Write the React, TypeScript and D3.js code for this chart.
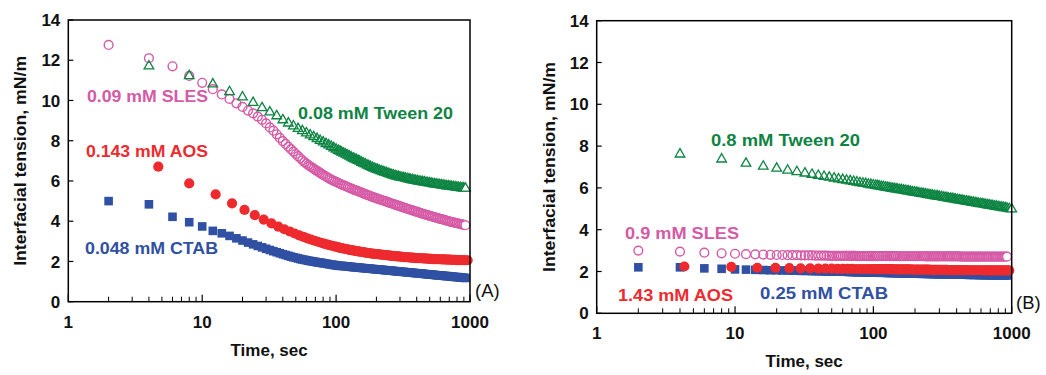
import React from "react";
import * as d3 from "d3";

// ---------- axis ticks ----------
const TIME_MAJOR = [1, 10, 100, 1000];
const TIME_LABELS = ["1", "10", "100", "1000"];
const TENSION_TICKS = [0, 2, 4, 6, 8, 10, 12, 14];

// ---------- time grids (s) ----------
const EVEN_T = [2, 4, 6, 8, 10, 12, 14, 16, 18, 20, 22, 24, 26, 28, 30, 32, 34, 36, 38, 40, 42, 44, 46, 48, 50, 52, 54, 56, 58, 60];
const QUAD_T = [4, 8, 12, 16, 20, 24, 28, 32, 36, 40, 44, 48, 52, 56, 60, 64, 68, 72, 76, 80, 84, 88, 92, 96, 100];
const GRID_A = [62, 64, 66, 68, 70, 72, 74, 76, 78, 80, 83, 86, 89, 92, 95, 98, 101];
const GRID_B = [
  104, 107, 110, 114, 118, 122, 126, 130, 134, 138,
  142, 146, 150, 155, 160, 165, 170, 175, 180, 186,
  192, 198, 204, 210, 217, 224, 231, 238, 245, 252,
  260, 268, 276, 284, 292, 300, 310, 320, 330, 340,
  350, 360, 371, 382, 393, 405, 417, 430, 443, 456,
  470, 484, 498, 513, 528, 544, 560, 577, 594, 612,
  630, 649, 668, 688, 709, 730, 752, 775, 798, 822,
  847, 872, 898, 925,
];
const AOS_A_T = [4.7, 8, 12.6, 16.7, 20.7, 24.7, 28.8, 32.9, 37, 41, 45, 49, 53, 57, 61, 65, 69, 73, 77, 81, 85, 89, 93, 97, 101];
const AOS_B_T = [4.3, 9.4, 14.5, 19.6, 24.7, 29.8, 34.9, 40, 45, 50, 55, 60, 65, 70, 75, 80, 85, 90, 95, 100];
const TAIL_T = [960, 1000];

// ---------- panel A values (mN/m) ----------
const A_SLES_EARLY = [12.76, 12.1, 11.7, 11.22, 10.88, 10.56, 10.3, 10.08, 9.86, 9.68, 9.5, 9.36, 9.2, 9.04, 8.86, 8.66, 8.5, 8.32, 8.14, 7.98, 7.84, 7.7, 7.58, 7.46, 7.34, 7.23, 7.13, 7.03, 6.94, 6.86];
const A_SLES_A = [6.79, 6.73, 6.67, 6.61, 6.55, 6.5, 6.45, 6.4, 6.35, 6.3, 6.24, 6.18, 6.12, 6.07, 6.02, 5.98, 5.94];
const A_SLES_B = [
  5.9, 5.86, 5.82, 5.78, 5.74, 5.7, 5.66, 5.62, 5.58, 5.55,
  5.52, 5.49, 5.46, 5.42, 5.38, 5.35, 5.31, 5.28, 5.25, 5.21,
  5.18, 5.15, 5.12, 5.09, 5.06, 5.03, 5.0, 4.97, 4.94, 4.91,
  4.88, 4.85, 4.82, 4.79, 4.77, 4.74, 4.71, 4.68, 4.65, 4.62,
  4.59, 4.57, 4.54, 4.51, 4.48, 4.46, 4.43, 4.4, 4.37, 4.35,
  4.32, 4.3, 4.27, 4.25, 4.22, 4.2, 4.17, 4.15, 4.12, 4.1,
  4.08, 4.05, 4.03, 4.01, 3.98, 3.96, 3.94, 3.92, 3.9, 3.88,
  3.86, 3.84, 3.82, 3.8,
];
const A_TWEEN_EARLY = [11.76, 11.27, 10.86, 10.48, 10.22, 9.94, 9.68, 9.47, 9.28, 9.08, 8.92, 8.78, 8.65, 8.54, 8.43, 8.33, 8.24, 8.15, 8.06, 7.98, 7.9, 7.83, 7.76, 7.69, 7.62];
const A_TWEEN_B = [
  7.56, 7.52, 7.47, 7.42, 7.37, 7.32, 7.27, 7.22, 7.18, 7.14,
  7.1, 7.06, 7.02, 6.97, 6.93, 6.89, 6.84, 6.8, 6.76, 6.72,
  6.68, 6.64, 6.61, 6.58, 6.54, 6.51, 6.48, 6.45, 6.42, 6.39,
  6.36, 6.33, 6.31, 6.28, 6.26, 6.24, 6.22, 6.2, 6.18, 6.16,
  6.14, 6.12, 6.1, 6.08, 6.07, 6.05, 6.03, 6.02, 6.0, 5.99,
  5.97, 5.96, 5.94, 5.93, 5.91, 5.9, 5.88, 5.87, 5.86, 5.84,
  5.83, 5.82, 5.8, 5.79, 5.78, 5.77, 5.76, 5.75, 5.73, 5.72,
  5.71, 5.7, 5.69, 5.68,
];
const A_AOS_EARLY = [6.71, 5.88, 5.33, 4.89, 4.56, 4.3, 4.08, 3.89, 3.73, 3.6, 3.49, 3.39, 3.3, 3.22, 3.15, 3.09, 3.03, 2.98, 2.93, 2.89, 2.85, 2.81, 2.78, 2.75, 2.72];
const A_AOS_B = [
  2.7, 2.68, 2.66, 2.64, 2.62, 2.6, 2.58, 2.56, 2.55, 2.53,
  2.52, 2.5, 2.49, 2.47, 2.46, 2.44, 2.43, 2.42, 2.4, 2.39,
  2.38, 2.37, 2.36, 2.35, 2.34, 2.33, 2.32, 2.31, 2.3, 2.29,
  2.28, 2.27, 2.26, 2.25, 2.25, 2.24, 2.23, 2.22, 2.21, 2.21,
  2.2, 2.19, 2.19, 2.18, 2.17, 2.17, 2.16, 2.16, 2.15, 2.15,
  2.14, 2.14, 2.13, 2.13, 2.12, 2.12, 2.11, 2.11, 2.11, 2.1,
  2.1, 2.1, 2.09, 2.09, 2.09, 2.08, 2.08, 2.08, 2.07, 2.07,
  2.07, 2.07, 2.06, 2.06,
];
const A_AOS_TAIL = [2.06];
const A_CTAB_EARLY = [5.0, 4.84, 4.22, 3.95, 3.74, 3.52, 3.4, 3.27, 3.15, 3.04, 2.94, 2.85, 2.77, 2.7, 2.63, 2.57, 2.51, 2.46, 2.41, 2.36, 2.32, 2.28, 2.24, 2.21, 2.18, 2.15, 2.12, 2.1, 2.08, 2.06];
const A_CTAB_A = [2.04, 2.02, 2.01, 1.99, 1.98, 1.96, 1.95, 1.94, 1.93, 1.91, 1.9, 1.88, 1.86, 1.85, 1.83, 1.82, 1.8];
const A_CTAB_B = [
  1.79, 1.78, 1.78, 1.77, 1.76, 1.75, 1.74, 1.73, 1.72, 1.71,
  1.71, 1.7, 1.69, 1.68, 1.67, 1.66, 1.66, 1.65, 1.64, 1.63,
  1.62, 1.61, 1.6, 1.6, 1.59, 1.58, 1.57, 1.56, 1.55, 1.55,
  1.54, 1.53, 1.52, 1.51, 1.5, 1.5, 1.49, 1.48, 1.47, 1.46,
  1.45, 1.45, 1.44, 1.43, 1.42, 1.41, 1.41, 1.4, 1.39, 1.38,
  1.37, 1.36, 1.36, 1.35, 1.34, 1.33, 1.32, 1.31, 1.31, 1.3,
  1.29, 1.28, 1.27, 1.27, 1.26, 1.25, 1.24, 1.23, 1.22, 1.22,
  1.21, 1.2, 1.19, 1.18,
];

// ---------- panel B values (mN/m) ----------
const B_TWEEN_EARLY = [7.66, 7.42, 7.22, 7.08, 6.98, 6.89, 6.82, 6.75, 6.69, 6.64, 6.59, 6.55, 6.51, 6.47, 6.44, 6.41, 6.38, 6.35, 6.32, 6.29, 6.27, 6.25, 6.22, 6.2, 6.18];
const B_TWEEN_B = [
  6.16, 6.15, 6.13, 6.11, 6.1, 6.08, 6.06, 6.05, 6.03, 6.02,
  6.0, 5.99, 5.98, 5.96, 5.95, 5.93, 5.92, 5.9, 5.89, 5.87,
  5.85, 5.84, 5.82, 5.81, 5.79, 5.78, 5.76, 5.75, 5.73, 5.72,
  5.7, 5.69, 5.67, 5.66, 5.65, 5.63, 5.62, 5.6, 5.58, 5.57,
  5.55, 5.54, 5.53, 5.51, 5.5, 5.48, 5.47, 5.45, 5.44, 5.42,
  5.41, 5.39, 5.38, 5.36, 5.35, 5.33, 5.32, 5.3, 5.29, 5.28,
  5.26, 5.25, 5.23, 5.22, 5.2, 5.19, 5.17, 5.16, 5.14, 5.13,
  5.12, 5.1, 5.09, 5.07,
];
const B_TWEEN_TAIL = [5.05, 5.03];
const B_SLES_EARLY = [3.0, 2.95, 2.9, 2.87, 2.85, 2.83, 2.82, 2.81, 2.8, 2.79, 2.79, 2.78, 2.78, 2.78, 2.77, 2.77, 2.77, 2.77, 2.76, 2.76, 2.76, 2.76, 2.76, 2.75, 2.75, 2.75, 2.75, 2.75, 2.75, 2.75];
const B_SLES_A = [2.75, 2.75, 2.75, 2.75, 2.75, 2.75, 2.75, 2.74, 2.74, 2.74, 2.74, 2.74, 2.74, 2.74, 2.74, 2.74, 2.74];
const B_SLES_B = [
  2.74, 2.74, 2.74, 2.74, 2.74, 2.74, 2.74, 2.74, 2.74, 2.74,
  2.74, 2.74, 2.73, 2.73, 2.73, 2.73, 2.73, 2.73, 2.73, 2.73,
  2.73, 2.73, 2.73, 2.73, 2.73, 2.73, 2.73, 2.72, 2.72, 2.72,
  2.72, 2.72, 2.72, 2.72, 2.72, 2.72, 2.72, 2.72, 2.72, 2.72,
  2.72, 2.72, 2.72, 2.72, 2.72, 2.72, 2.72, 2.71, 2.71, 2.71,
  2.71, 2.71, 2.71, 2.71, 2.71, 2.71, 2.71, 2.71, 2.71, 2.71,
  2.71, 2.71, 2.71, 2.71, 2.71, 2.71, 2.71, 2.71, 2.71, 2.71,
  2.71, 2.71, 2.71, 2.71,
];
const B_AOS_EARLY = [2.24, 2.22, 2.18, 2.17, 2.16, 2.15, 2.15, 2.14, 2.14, 2.14, 2.13, 2.13, 2.13, 2.13, 2.12, 2.12, 2.12, 2.12, 2.12, 2.11];
const B_AOS_B = [
  2.11, 2.11, 2.11, 2.11, 2.11, 2.11, 2.11, 2.11, 2.11, 2.11,
  2.1, 2.1, 2.1, 2.1, 2.1, 2.1, 2.1, 2.1, 2.1, 2.1,
  2.09, 2.09, 2.09, 2.09, 2.09, 2.09, 2.09, 2.09, 2.09, 2.09,
  2.08, 2.08, 2.08, 2.08, 2.08, 2.08, 2.08, 2.08, 2.08, 2.08,
  2.07, 2.07, 2.07, 2.07, 2.07, 2.07, 2.07, 2.07, 2.07, 2.07,
  2.06, 2.06, 2.06, 2.06, 2.06, 2.06, 2.06, 2.06, 2.06, 2.06,
  2.05, 2.05, 2.05, 2.05, 2.05, 2.05, 2.05, 2.05, 2.05, 2.05,
  2.05, 2.05, 2.05, 2.05,
];
const B_AOS_TAIL = [2.05];
const B_CTAB_EARLY = [2.2, 2.2, 2.15, 2.13, 2.1, 2.09, 2.08, 2.07, 2.06, 2.06, 2.05, 2.05, 2.04, 2.04, 2.03, 2.03, 2.03, 2.02, 2.02, 2.02, 2.01, 2.01, 2.01, 2.0, 2.0, 2.0, 2.0, 1.99, 1.99, 1.99];
const B_CTAB_A = [1.99, 1.99, 1.98, 1.98, 1.98, 1.98, 1.97, 1.97, 1.97, 1.97, 1.96, 1.96, 1.96, 1.96, 1.95, 1.95, 1.95];
const B_CTAB_B = [
  1.95, 1.95, 1.94, 1.94, 1.94, 1.94, 1.93, 1.93, 1.93, 1.93,
  1.93, 1.92, 1.92, 1.92, 1.92, 1.91, 1.91, 1.91, 1.91, 1.91,
  1.9, 1.9, 1.9, 1.9, 1.89, 1.89, 1.89, 1.89, 1.89, 1.88,
  1.88, 1.88, 1.88, 1.88, 1.87, 1.87, 1.87, 1.87, 1.87, 1.86,
  1.86, 1.86, 1.86, 1.86, 1.86, 1.85, 1.85, 1.85, 1.85, 1.85,
  1.85, 1.84, 1.84, 1.84, 1.84, 1.84, 1.84, 1.83, 1.83, 1.83,
  1.83, 1.83, 1.83, 1.82, 1.82, 1.82, 1.82, 1.82, 1.82, 1.81,
  1.81, 1.81, 1.81, 1.81,
];

// ---------- styling ----------
const FONT = "'Liberation Sans', Arial, Helvetica, sans-serif";
const PINK = "#d65aa6";
const GREEN = "#0d8442";
const RED = "#ee2a2e";
const BLUE = "#2f50a3";

type Kind = "open-circle" | "dot" | "square" | "triangle";
type Pt = { t: number; v: number };
type Series = { pts: Pt[]; kind: Kind; color: string };
type Label = { text: string; x: number; y: number; w: number; color: string };

function zip(t: number[], v: number[]): Pt[] {
  const n = Math.min(t.length, v.length);
  return d3.range(n).map((i) => ({ t: t[i], v: v[i] }));
}

const TRI = d3.symbol().type(d3.symbolTriangle).size(40)() as string;

function Marker({ kind, color, x, y, last }: { kind: Kind; color: string; x: number; y: number; last: boolean }) {
  if (kind === "open-circle")
    return <circle cx={x} cy={y} r={4.4} fill={last ? "#fff" : "none"} stroke={color} strokeWidth={1.4} />;
  if (kind === "dot") return <circle cx={x} cy={y} r={5.1} fill={color} />;
  if (kind === "square") return <rect x={x - 4.3} y={y - 4.3} width={8.6} height={8.6} fill={color} />;
  return (
    <path d={TRI} transform={`translate(${x},${y + 1})`} fill={last ? "#fff" : "none"} stroke={color} strokeWidth={1.3} />
  );
}

function Panel({
  x0, x1, y0, y1, series, labels, tag, tagX, tagY,
}: {
  x0: number; x1: number; y0: number; y1: number;
  series: Series[]; labels: Label[]; tag: string; tagX: number; tagY: number;
}) {
  const x = d3.scaleLog().domain([1, 1000]).range([x0, x1]);
  const y = d3.scaleLinear().domain([0, 14]).range([y0, y1]);
  const minor = x.ticks().filter((t) => !TIME_MAJOR.includes(t));
  return (
    <g>
      {series.map((s, si) => (
        <g key={si}>
          {s.pts.map((p, i) => (
            <Marker key={i} kind={s.kind} color={s.color} x={x(p.t)} y={y(p.v)} last={i === s.pts.length - 1} />
          ))}
        </g>
      ))}
      <rect x={x0} y={y1} width={x1 - x0} height={y0 - y1} fill="none" stroke="#000" strokeWidth={1.5} />
      {TENSION_TICKS.map((v) => (
        <g key={v}>
          <line x1={x0} x2={x0 + 5} y1={y(v)} y2={y(v)} stroke="#000" strokeWidth={1.2} />
          <text x={x0 - 8} y={y(v)} dy="0.36em" textAnchor="end" fontFamily={FONT} fontWeight="bold" fontSize={17} fill="#111">
            {v}
          </text>
        </g>
      ))}
      {TIME_MAJOR.map((t, i) => (
        <g key={t}>
          <line x1={x(t)} x2={x(t)} y1={y0} y2={y0 - 7} stroke="#000" strokeWidth={1.2} />
          <text x={x(t)} y={y0 + 26} textAnchor="middle" fontFamily={FONT} fontWeight="bold" fontSize={17} fill="#111">
            {TIME_LABELS[i]}
          </text>
        </g>
      ))}
      {minor.map((t) => (
        <line key={t} x1={x(t)} x2={x(t)} y1={y0} y2={y0 - 5} stroke="#000" strokeWidth={1} />
      ))}
      <text x={(x0 + x1) / 2} y={y0 + 54} textAnchor="middle" fontFamily={FONT} fontWeight="bold" fontSize={17} fill="#111">
        Time, sec
      </text>
      <text
        transform={`translate(${x0 - 42},${(y0 + y1) / 2}) rotate(-90)`}
        textAnchor="middle" fontFamily={FONT} fontWeight="bold" fontSize={17} fill="#111"
        textLength={210} lengthAdjust="spacingAndGlyphs"
      >
        Interfacial tension, mN/m
      </text>
      {labels.map((l) => (
        <text key={l.text} x={l.x} y={l.y} fontFamily={FONT} fontWeight="bold" fontSize={16.5} fill={l.color}
          textLength={l.w} lengthAdjust="spacingAndGlyphs">
          {l.text}
        </text>
      ))}
      <text x={tagX} y={tagY} fontFamily={FONT} fontSize={18.5} fill="#111">{tag}</text>
    </g>
  );
}

const SERIES_A: Series[] = [
  { pts: zip([...EVEN_T, ...GRID_A, ...GRID_B], [...A_CTAB_EARLY, ...A_CTAB_A, ...A_CTAB_B]), kind: "square", color: BLUE },
  { pts: zip([...AOS_A_T, ...GRID_B, ...TAIL_T], [...A_AOS_EARLY, ...A_AOS_B, ...A_AOS_TAIL]), kind: "dot", color: RED },
  { pts: zip([...EVEN_T, ...GRID_A, ...GRID_B], [...A_SLES_EARLY, ...A_SLES_A, ...A_SLES_B]), kind: "open-circle", color: PINK },
  { pts: zip([...QUAD_T, ...GRID_B], [...A_TWEEN_EARLY, ...A_TWEEN_B]), kind: "triangle", color: GREEN },
];

const SERIES_B: Series[] = [
  { pts: zip([...EVEN_T, ...GRID_A, ...GRID_B], [...B_CTAB_EARLY, ...B_CTAB_A, ...B_CTAB_B]), kind: "square", color: BLUE },
  { pts: zip([...AOS_B_T, ...GRID_B, ...TAIL_T], [...B_AOS_EARLY, ...B_AOS_B, ...B_AOS_TAIL]), kind: "dot", color: RED },
  { pts: zip([...EVEN_T, ...GRID_A, ...GRID_B], [...B_SLES_EARLY, ...B_SLES_A, ...B_SLES_B]), kind: "open-circle", color: PINK },
  { pts: zip([...QUAD_T, ...GRID_B, ...TAIL_T], [...B_TWEEN_EARLY, ...B_TWEEN_B, ...B_TWEEN_TAIL]), kind: "triangle", color: GREEN },
];

const LABELS_A: Label[] = [
  { text: "0.09 mM SLES", x: 87, y: 102, w: 121, color: PINK },
  { text: "0.08 mM Tween 20", x: 298, y: 118.5, w: 155, color: GREEN },
  { text: "0.143 mM AOS", x: 86, y: 157, w: 122, color: RED },
  { text: "0.048 mM CTAB", x: 85, y: 254, w: 133, color: BLUE },
];
const LABELS_B: Label[] = [
  { text: "0.8 mM Tween 20", x: 711, y: 146, w: 149, color: GREEN },
  { text: "0.9 mM SLES", x: 625, y: 238.5, w: 114, color: PINK },
  { text: "1.43 mM AOS", x: 618, y: 301, w: 115, color: RED },
  { text: "0.25 mM CTAB", x: 760, y: 299, w: 128, color: BLUE },
];

export default function App() {
  return (
    <svg width={1046} height={375} style={{ position: "absolute", left: 0, top: 0, background: "#fff" }}>
      <Panel x0={68.3} x1={470} y0={301.7} y1={20} series={SERIES_A} labels={LABELS_A} tag="(A)" tagX={475} tagY={297} />
      <Panel x0={596.7} x1={1011.7} y0={313.3} y1={20.7} series={SERIES_B} labels={LABELS_B} tag="(B)" tagX={1016} tagY={309} />
    </svg>
  );
}
